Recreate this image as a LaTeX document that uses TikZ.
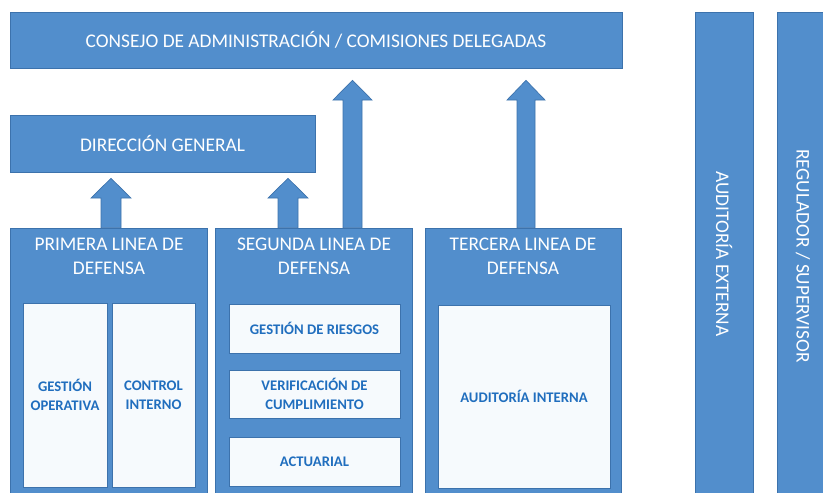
\documentclass[tikz,border=0pt]{standalone}
\usepackage{fontspec}
\setmainfont{Carlito}
\usetikzlibrary{fit,calc}
\definecolor{mainblue}{RGB}{82,142,204}
\definecolor{edgeblue}{RGB}{60,114,172}
\definecolor{paleblue}{RGB}{246,250,253}
\definecolor{textblue}{RGB}{32,110,190}
\tikzset{
  bluebox/.style={fill=mainblue, draw=edgeblue, line width=0.5pt, inner sep=0pt},
  palebox/.style={fill=paleblue, draw=edgeblue, line width=0.4pt, inner sep=0pt},
  headtext/.style={text=white, font=\fontsize{14.5}{18}\selectfont, align=center, inner sep=0pt},
  innertext/.style={text=textblue, font=\bfseries\fontsize{11}{14}\selectfont, align=center, inner sep=0pt},
  blockarrow/.style={fill=mainblue, draw=edgeblue, line width=0.5pt},
}
\begin{document}
\begin{tikzpicture}[x=0.75pt, y=-0.75pt]
\useasboundingbox (0,0) rectangle (823,492);
% main boxes
\node[bluebox, fit={(10,12)(622,68)}] (consejo) {};
\node[headtext] at (consejo.center) {CONSEJO DE ADMINISTRACIÓN / COMISIONES DELEGADAS};
\node[bluebox, fit={(10,115)(315,172)}] (dg) {};
\node[headtext] at (dg.center) {DIRECCIÓN GENERAL};
% columns
\node[bluebox, fit={(10,228)(207,496)}] (prim) {};
\node[bluebox, fit={(215,228)(412,496)}] (seg) {};
\node[bluebox, fit={(425,228)(621,496)}] (ter) {};
\node[headtext] (primt) at (109,256) {PRIMERA LINEA DE\\DEFENSA};
\node[headtext] (segt) at (314,256) {SEGUNDA LINEA DE\\DEFENSA};
\node[headtext] (tert) at (523,256) {TERCERA LINEA DE\\DEFENSA};
% inner boxes
\node[palebox, fit={(23,303)(107,487)}] (gop) {};
\node[innertext] at (gop.center) {GESTIÓN\\OPERATIVA};
\node[palebox, fit={(112,303)(195,487)}] (cint) {};
\node[innertext] at (cint.center) {CONTROL\\INTERNO};
\node[palebox, fit={(229,304)(400,353)}] (gr) {};
\node[innertext] at (gr.center) {GESTIÓN DE RIESGOS};
\node[palebox, fit={(229,370)(400,418)}] (vc) {};
\node[innertext] at (vc.center) {VERIFICACIÓN DE\\CUMPLIMIENTO};
\node[palebox, fit={(229,437)(400,486)}] (act) {};
\node[innertext] at (act.center) {ACTUARIAL};
\node[palebox, fit={(438,305)(610,488)}] (ai) {};
\node[innertext] at (ai.center) {AUDITORÍA INTERNA};
% side bars
\node[bluebox, fit={(695,12)(753,496)}] (ae) {};
\node[headtext, rotate=-90] at (ae.center) {AUDITORÍA EXTERNA};
\node[bluebox, fit={(777,12)(827,496)}] (reg) {};
\node[headtext, rotate=-90] at ($(reg.center)+(1,2)$) {REGULADOR / SUPERVISOR};
% block arrows
\draw[blockarrow] (101,0 |- prim.north) -- (101,198) -- (91,198) -- ($(111,0 |- dg.south)+(0,6)$) -- (131,198) -- (121,198) -- (121,0 |- prim.north) -- cycle;
\draw[blockarrow] (278,0 |- seg.north) -- (278,198) -- (268,198) -- ($(288,0 |- dg.south)+(0,6)$) -- (308,198) -- (298,198) -- (298,0 |- seg.north) -- cycle;
\draw[blockarrow] (343,0 |- seg.north) -- (343,100) -- (333,100) -- ($(352.5,0 |- consejo.south)+(0,12)$) -- (372,100) -- (362,100) -- (362,0 |- seg.north) -- cycle;
\draw[blockarrow] (517,0 |- ter.north) -- (517,100) -- (507,100) -- ($(526,0 |- consejo.south)+(0,12)$) -- (545,100) -- (535,100) -- (535,0 |- ter.north) -- cycle;
\end{tikzpicture}
\end{document}
